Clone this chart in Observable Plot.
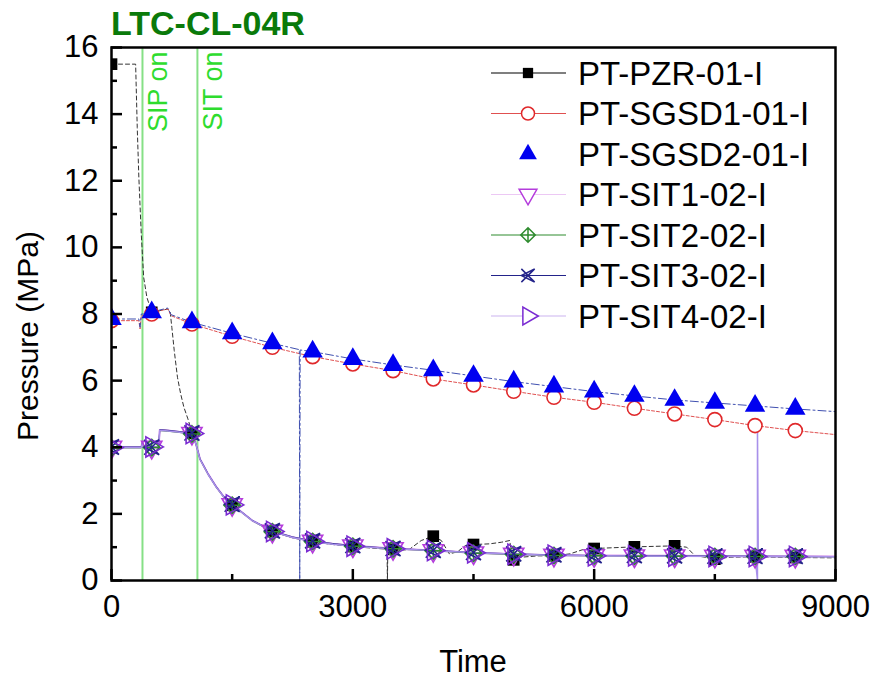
<!DOCTYPE html>
<html><head><meta charset="utf-8">
<script src="https://cdn.jsdelivr.net/npm/d3@7"></script>
<script src="https://cdn.jsdelivr.net/npm/@observablehq/plot@0.6"></script>
<style>
body{margin:0;background:#fff;}
#wrap{position:relative;width:875px;height:681px;font-family:"Liberation Sans",Arial,sans-serif;}
#wrap svg{position:absolute;left:0;top:0;}
</style></head><body><div id="wrap"></div>
<script>
// ---------- data ----------
const chartTitle = "LTC-CL-04R";
const xLabel = "Time";
const yLabel = "Pressure (MPa)";
const xTicks = [0, 3000, 6000, 9000];
const xMinor = [1500, 4500, 7500];
const yTicks = [0, 2, 4, 6, 8, 10, 12, 14, 16];
const yMinor = [1, 3, 5, 7, 9, 11, 13, 15];
const eventT = [385, 1068];
const eventLabels = ["SIP on", "SIT on"];

const seriesNames = ["PT-PZR-01-I", "PT-SGSD1-01-I", "PT-SGSD2-01-I", "PT-SIT1-02-I", "PT-SIT2-02-I", "PT-SIT3-02-I", "PT-SIT4-02-I"];

// marker samples (every 500 s)
const markerT = [0,500,1000,1500,2000,2500,3000,3500,4000,4500,5000,5500,6000,6500,7000,7500,8000,8500];
const pzrM   = [15.5,8.05,4.42,2.26,1.47,1.16,1.02,0.94,1.33,1.08,0.62,0.74,0.96,1.01,1.04,0.64,0.71,0.69];
const sgsd1M = [7.8,8.0,7.7,7.33,7.0,6.72,6.5,6.3,6.05,5.87,5.68,5.5,5.35,5.17,5.0,4.83,4.65,4.5];
const sgsd2M = [7.85,8.05,7.75,7.42,7.12,6.87,6.65,6.47,6.31,6.14,5.97,5.82,5.67,5.54,5.42,5.33,5.24,5.15];
const sit1M  = [4.0,4.0,4.42,2.28,1.48,1.18,1.04,0.96,0.9,0.83,0.79,0.76,0.75,0.74,0.74,0.73,0.73,0.73];
const sit2M  = [3.98,3.99,4.4,2.26,1.46,1.17,1.03,0.95,0.89,0.82,0.78,0.75,0.74,0.73,0.73,0.72,0.72,0.72];
const sit3M  = [4.01,4.0,4.43,2.29,1.49,1.19,1.05,0.96,0.91,0.84,0.8,0.77,0.75,0.75,0.74,0.73,0.73,0.73];
const sit4M  = [3.99,4.01,4.41,2.27,1.47,1.17,1.03,0.95,0.9,0.83,0.79,0.76,0.74,0.74,0.73,0.72,0.72,0.72];

// continuous traces
const pzrT = [0,300,320,340,370,400,440,480,500,600,700,730,750,780,820,860,900,950,1000,1050,1100,1200,1300,1400,1500,1750,2000,2250,2500,2750,3000,3250,3425,3430,3435,3600,3700,3850,4000,4100,4200,4300,4400,4500,4700,4850,4950,4980,5000,5100,5300,5500,5700,5850,6000,6500,7000,7150,7250,7500,7700,8000,8500,9000];
const pzrV = [15.5,15.5,13.6,12.1,10.4,9.1,8.5,8.2,8.05,8.1,8.15,8.05,7.6,6.9,6.1,5.6,5.2,4.85,4.45,4.1,3.65,3.2,2.82,2.5,2.26,1.8,1.47,1.28,1.16,1.08,1.02,0.97,0.94,0,0.94,0.91,0.93,1.2,1.33,1.2,0.8,0.86,1.05,1.08,1.1,1.15,1.2,0.7,0.62,0.7,0.74,0.74,0.8,0.92,0.96,1.01,1.04,1.0,0.75,0.65,0.7,0.71,0.69,0.68];

const sgsd1T = [0,340,355,370,420,500,600,700,740,1000,1500,2000,2500,3000,3500,4000,4500,5000,5500,6000,6500,7000,7500,8000,8500,9000];
const sgsd1V = [7.8,7.8,7.55,7.95,7.95,8.0,8.1,8.15,7.95,7.7,7.33,7.0,6.72,6.5,6.3,6.05,5.87,5.68,5.5,5.35,5.17,5.0,4.83,4.65,4.5,4.38];

const sgsd2T = [0,340,355,370,420,500,600,700,740,1000,1500,2000,2335,2340,2345,2500,3000,3500,4000,4500,5000,5500,6000,6500,7000,7500,8000,8500,9000];
const sgsd2V = [7.85,7.85,7.6,8.0,8.0,8.05,8.12,8.18,7.98,7.75,7.42,7.12,6.93,0,6.92,6.87,6.65,6.47,6.31,6.14,5.97,5.82,5.67,5.54,5.42,5.33,5.24,5.15,5.07];

const sitT = [0,370,385,400,585,600,700,850,1000,1050,1100,1200,1300,1400,1500,1750,2000,2250,2500,2750,3000,3500,4000,4500,5000,5500,6000,7000,8000,9000];
const sit1V = [4.0,4.0,4.15,4.0,4.0,4.52,4.5,4.46,4.42,4.1,3.65,3.2,2.82,2.5,2.28,1.8,1.48,1.3,1.18,1.1,1.04,0.96,0.9,0.83,0.79,0.76,0.75,0.74,0.73,0.72];
const sit2V = [3.98,3.98,4.12,3.98,3.99,4.5,4.48,4.44,4.4,4.08,3.63,3.18,2.8,2.48,2.26,1.79,1.46,1.29,1.17,1.09,1.03,0.95,0.89,0.82,0.78,0.75,0.74,0.73,0.72,0.71];
const sit3V = [4.01,4.01,4.17,4.01,4.0,4.53,4.51,4.47,4.43,4.11,3.66,3.21,2.83,2.51,2.29,1.81,1.49,1.31,1.19,1.11,1.05,0.96,0.91,0.84,0.8,0.77,0.75,0.74,0.73,0.72];
const sit4T = [0,370,385,400,585,600,700,850,1000,1050,1100,1200,1300,1400,1500,1750,2000,2250,2500,2750,3000,3500,4000,4500,5000,5500,6000,7000,8000,8030,8030,8040,9000];
const sit4V = [3.99,3.99,4.14,3.99,4.0,4.51,4.49,4.45,4.41,4.09,3.64,3.19,2.81,2.49,2.27,1.8,1.47,1.29,1.17,1.09,1.03,0.95,0.9,0.83,0.79,0.76,0.74,0.73,0.72,0,4.6,0.72,0.71];

// ---------- styles ----------
const sq3 = Math.sqrt(3);
const symTriDown = {draw(c, s){ const y = -Math.sqrt(s/(sq3*3)); c.moveTo(0,-2*y); c.lineTo(-sq3*y, y); c.lineTo(sq3*y, y); c.closePath(); }};
const symTriRight = {draw(c, s){ const y = -Math.sqrt(s/(sq3*3)); c.moveTo(-2*y,0); c.lineTo(y,-sq3*y); c.lineTo(y, sq3*y); c.closePath(); }};
const symDiamondCross = {draw(c, s){ const r = Math.sqrt(s)*0.62; c.moveTo(0,-r); c.lineTo(r,0); c.lineTo(0,r); c.lineTo(-r,0); c.closePath(); c.moveTo(0,-r); c.lineTo(0,r); c.moveTo(-r,0); c.lineTo(r,0); }};
const symXTri = {draw(c, s){ const r = Math.sqrt(s)*0.5; c.moveTo(-r,-r); c.lineTo(r,r); c.moveTo(-r,r); c.lineTo(r,-r); c.moveTo(r,-r); c.lineTo(-r,0); c.lineTo(r,r); }};

const W = 875, H = 681, mL = 111, mR = 40, mT = 47, mB = 101;
const plotW = W - mL - mR, plotH = H - mT - mB;
const font = "Liberation Sans, Arial, sans-serif";

const chart = Plot.plot({
  width: W, height: H,
  marginLeft: mL, marginRight: mR, marginTop: mT, marginBottom: mB,
  style: {fontFamily: font, background: "white", overflow: "visible"},
  x: {domain: [0, 9000]},
  y: {domain: [0, 16]},
  marks: [
    Plot.ruleX(eventT, {x: eventT, stroke: "#86e086", strokeWidth: 2}),
    Plot.text(eventT, {x: eventT, text: eventLabels, frameAnchor: "top", rotate: -90, textAnchor: "end", lineAnchor: "bottom", dx: 25, dy: 4, fill: "#2edc2e", fontSize: 27}),
    // lines
    Plot.line(pzrT, {x: pzrT, y: pzrV, stroke: "#333", strokeWidth: 1, strokeDasharray: "4,3"}),
    Plot.line(sgsd1T, {x: sgsd1T, y: sgsd1V, stroke: "#e05050", strokeWidth: 1, strokeDasharray: "3,2"}),
    Plot.line(sgsd2T, {x: sgsd2T, y: sgsd2V, stroke: "#4050b0", strokeWidth: 1, strokeDasharray: "8,3,2,3"}),
    Plot.line(sitT, {x: sitT, y: sit1V, stroke: "#d890ec", strokeWidth: 2}),
    Plot.line(sitT, {x: sitT, y: sit2V, stroke: "#3a8a3a", strokeWidth: 1}),
    Plot.line(sitT, {x: sitT, y: sit3V, stroke: "#2a2a8a", strokeWidth: 1}),
    Plot.line(sit4T, {x: sit4T, y: sit4V, stroke: "#a890ea", strokeWidth: 1.5}),
    // markers
    Plot.dot(markerT, {x: markerT, y: pzrM, symbol: "square", r: 6.6, fill: "black", stroke: "none", clip: true}),
    Plot.dot(markerT, {x: markerT, y: sgsd1M, symbol: "circle", r: 7, fill: "white", stroke: "#e0282a", strokeWidth: 1.6, clip: true}),
    Plot.dot(markerT, {x: markerT, y: sgsd2M, symbol: "triangle", r: 7.6, fill: "#0000f0", stroke: "none", clip: true}),
    Plot.dot(markerT, {x: markerT, y: sit1M, symbol: symTriDown, r: 7.5, fill: "none", stroke: "#b43cdc", strokeWidth: 1.6, clip: true}),
    Plot.dot(markerT, {x: markerT, y: sit2M, symbol: symDiamondCross, r: 7.5, fill: "none", stroke: "#2e8b2e", strokeWidth: 1.5, clip: true}),
    Plot.dot(markerT, {x: markerT, y: sit3M, symbol: symXTri, r: 8.5, fill: "none", stroke: "#23238a", strokeWidth: 1.6, clip: true}),
    Plot.dot(markerT, {x: markerT, y: sit4M, symbol: symTriRight, r: 7.5, fill: "none", stroke: "#7a2bd2", strokeWidth: 1.6, clip: true}),
    // ticks (inward)
    Plot.tickY(yTicks, {y: yTicks, insetRight: plotW - 11, stroke: "black", strokeWidth: 2.5}),
    Plot.tickY(yMinor, {y: yMinor, insetRight: plotW - 6, stroke: "black", strokeWidth: 2.5}),
    Plot.tickX(xTicks, {x: xTicks, insetTop: plotH - 11, stroke: "black", strokeWidth: 2.5}),
    Plot.tickX(xMinor, {x: xMinor, insetTop: plotH - 6, stroke: "black", strokeWidth: 2.5}),
    Plot.axisY(yTicks, {tickSize: 0, tickPadding: 13, fontSize: 31, label: null, fill: "black", tickFormat: d => String(d)}),
    Plot.axisX(xTicks, {tickSize: 0, tickPadding: 14, fontSize: 31, label: null, fill: "black", tickFormat: d => String(d)}),
    Plot.frame({stroke: "black", strokeWidth: 2.5})
  ]
});
const wrap = document.getElementById("wrap");
wrap.appendChild(chart);

// ---------- overlay: title, axis labels, legend ----------
const ov = d3.select(wrap).append("svg").attr("width", W).attr("height", H)
  .style("font-family", font).style("pointer-events", "none");
ov.append("text").attr("x", 111).attr("y", 35).attr("font-size", 34).attr("font-weight", "bold")
  .attr("fill", "#0a7a0a").text(chartTitle);
ov.append("text").attr("transform", "translate(38,336) rotate(-90)").attr("text-anchor", "middle")
  .attr("font-size", 30).text(yLabel);
ov.append("text").attr("x", 473).attr("y", 672).attr("text-anchor", "middle").attr("font-size", 31).text(xLabel);

const legendStyle = [
  {sym: d3.symbolSquare, r: 5.8, fill: "black", stroke: "none", line: "black"},
  {sym: d3.symbolCircle, r: 6.5, fill: "white", stroke: "#e0282a", line: "#e05050"},
  {sym: d3.symbolTriangle, r: 6.6, fill: "#0000f0", stroke: "none", line: null},
  {sym: symTriDown, r: 6.6, fill: "white", stroke: "#b43cdc", line: "#ecc8f4"},
  {sym: symDiamondCross, r: 6.6, fill: "white", stroke: "#2e8b2e", line: "#2e8b2e"},
  {sym: symXTri, r: 7.5, fill: "none", stroke: "#23238a", line: "#23238a"},
  {sym: symTriRight, r: 6.6, fill: "white", stroke: "#7a2bd2", line: "#cbb4f0"}
];
const lg = ov.append("g");
seriesNames.forEach((name, i) => {
  const st = legendStyle[i];
  const yy = 73 + i * 40.5;
  const g = lg.append("g").attr("transform", `translate(0,${yy})`);
  if (st.line) g.append("line").attr("x1", 491).attr("x2", 566).attr("y1", 0).attr("y2", 0).attr("stroke", st.line).attr("stroke-width", 1.2);
  g.append("path").attr("transform", "translate(528,0)")
    .attr("d", d3.symbol().type(st.sym).size(Math.PI * st.r * st.r)())
    .attr("fill", st.fill).attr("stroke", st.stroke).attr("stroke-width", 1.5);
  g.append("text").attr("x", 578).attr("y", 11.5).attr("font-size", 33).text(name);
});
</script>
</body></html>
